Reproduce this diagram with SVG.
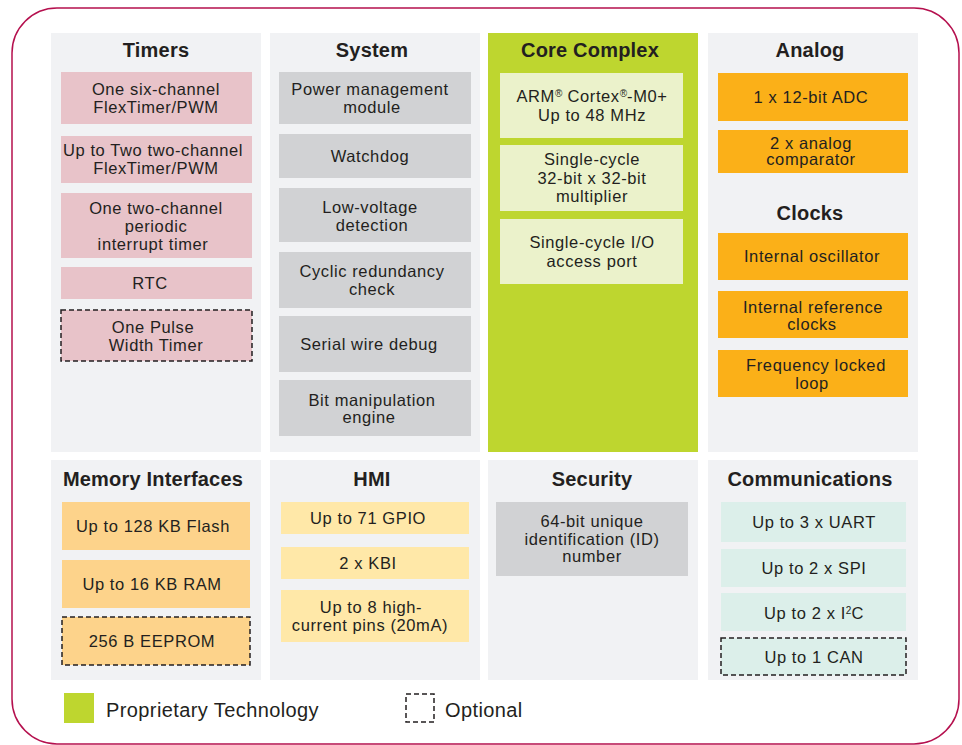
<svg xmlns="http://www.w3.org/2000/svg" width="962" height="745" viewBox="0 0 962 745">
<style>
text{font-family:"Liberation Sans",Arial,sans-serif;fill:#231f20;text-anchor:middle}
.t{font-size:20px;font-weight:bold;letter-spacing:0.2px}
.b{font-size:16.5px;letter-spacing:0.6px}
.l{font-size:20px;letter-spacing:0.4px;text-anchor:start}
.panel{fill:#f1f2f4}
.pink{fill:#e8c3c9}
.gray{fill:#d1d2d4}
.lg{fill:#ebf2cb}
.or{fill:#fbb018}
.mem{fill:#fdd38b}
.hmi{fill:#ffe8a8}
.com{fill:#dcefea}
.dash{stroke:#231f20;stroke-width:1.5;stroke-dasharray:5 3}
.sup{font-size:10px;letter-spacing:0}
</style>
<rect x="12" y="8" width="947" height="736" rx="45" fill="#fff" stroke="#b5104e" stroke-width="1.5"/>

<g id="timers">
<rect class="panel" x="51" y="33" width="210" height="419"/>
<text class="t" x="156" y="57">Timers</text>
<rect class="pink" x="61" y="72" width="191" height="52"/>
<text class="b" x="156" y="95">One six-channel</text><text class="b" x="156" y="113">FlexTimer/PWM</text>
<rect class="pink" x="61" y="136" width="191" height="47"/>
<text class="b" x="153" y="156">Up to Two two-channel</text><text class="b" x="156" y="174">FlexTimer/PWM</text>
<rect class="pink" x="61" y="193" width="191" height="65"/>
<text class="b" x="156" y="213.5">One two-channel</text><text class="b" x="156" y="231.5">periodic</text><text class="b" x="153" y="249.5">interrupt timer</text>
<rect class="pink" x="61" y="267" width="191" height="32"/>
<text class="b" x="150" y="289">RTC</text>
<rect class="pink dash" x="61" y="310" width="191" height="51"/>
<text class="b" x="153" y="332.5">One Pulse</text><text class="b" x="156" y="351">Width Timer</text>
</g>

<g id="system">
<rect class="panel" x="270" y="33" width="210" height="419"/>
<text class="t" x="372" y="57">System</text>
<rect class="gray" x="279" y="72" width="192" height="52"/>
<text class="b" x="370" y="95">Power management</text><text class="b" x="372" y="113">module</text>
<rect class="gray" x="279" y="134" width="192" height="44"/>
<text class="b" x="370" y="162">Watchdog</text>
<rect class="gray" x="279" y="188" width="192" height="54"/>
<text class="b" x="370" y="213">Low-voltage</text><text class="b" x="372" y="231">detection</text>
<rect class="gray" x="279" y="252" width="192" height="56"/>
<text class="b" x="372" y="277">Cyclic redundancy</text><text class="b" x="372" y="294.5">check</text>
<rect class="gray" x="279" y="316" width="192" height="56"/>
<text class="b" x="369" y="350">Serial wire debug</text>
<rect class="gray" x="279" y="380" width="192" height="56"/>
<text class="b" x="372" y="406">Bit manipulation</text><text class="b" x="369" y="423">engine</text>
</g>

<g id="core">
<rect fill="#bed62f" x="488" y="33" width="210" height="419"/>
<text class="t" x="590" y="57">Core Complex</text>
<rect class="lg" x="500" y="73" width="183" height="65"/>
<text class="b" x="592" y="102">ARM<tspan class="sup" baseline-shift="super">®</tspan> Cortex<tspan class="sup" baseline-shift="super">®</tspan>-M0+</text><text class="b" x="592" y="121">Up to 48 MHz</text>
<rect class="lg" x="500" y="145" width="183" height="66"/>
<text class="b" x="592" y="165">Single-cycle</text><text class="b" x="592" y="183.5">32-bit x 32-bit</text><text class="b" x="592" y="202">multiplier</text>
<rect class="lg" x="500" y="219" width="183" height="65"/>
<text class="b" x="592" y="248">Single-cycle I/O</text><text class="b" x="592" y="267">access port</text>
</g>

<g id="analog">
<rect class="panel" x="708" y="33" width="210" height="419"/>
<text class="t" x="810" y="57">Analog</text>
<rect class="or" x="718" y="73" width="190" height="48"/>
<text class="b" x="811" y="102.5">1 x 12-bit ADC</text>
<rect class="or" x="718" y="130" width="190" height="43"/>
<text class="b" x="811" y="148.5">2 x analog</text><text class="b" x="811" y="165">comparator</text>
<text class="t" x="810" y="220">Clocks</text>
<rect class="or" x="718" y="233" width="190" height="47"/>
<text class="b" x="812" y="262">Internal oscillator</text>
<rect class="or" x="718" y="291" width="190" height="47"/>
<text class="b" x="813" y="312.5">Internal reference</text><text class="b" x="812" y="330">clocks</text>
<rect class="or" x="718" y="350" width="190" height="47"/>
<text class="b" x="816" y="371">Frequency locked</text><text class="b" x="812" y="389">loop</text>
</g>

<g id="memory">
<rect class="panel" x="51" y="460" width="210" height="220"/>
<text class="t" x="153" y="486">Memory Interfaces</text>
<rect class="mem" x="62" y="502" width="188" height="48"/>
<text class="b" x="153" y="532">Up to 128 KB Flash</text>
<rect class="mem" x="62" y="560" width="188" height="48"/>
<text class="b" x="152" y="590">Up to 16 KB RAM</text>
<rect class="mem dash" x="62" y="617" width="188" height="48"/>
<text class="b" x="152" y="647">256 B EEPROM</text>
</g>

<g id="hmi">
<rect class="panel" x="270" y="460" width="210" height="220"/>
<text class="t" x="372" y="486">HMI</text>
<rect class="hmi" x="281" y="502" width="188" height="32"/>
<text class="b" x="368" y="524">Up to 71 GPIO</text>
<rect class="hmi" x="281" y="547" width="188" height="32"/>
<text class="b" x="368" y="569">2 x KBI</text>
<rect class="hmi" x="281" y="590" width="188" height="52"/>
<text class="b" x="371" y="613">Up to 8 high-</text><text class="b" x="370" y="631">current pins (20mA)</text>
</g>

<g id="security">
<rect class="panel" x="488" y="460" width="210" height="220"/>
<text class="t" x="592" y="486">Security</text>
<rect class="gray" x="496" y="502" width="192" height="74"/>
<text class="b" x="592" y="527">64-bit unique</text><text class="b" x="592" y="544.5">identification (ID)</text><text class="b" x="592" y="562">number</text>
</g>

<g id="communications">
<rect class="panel" x="708" y="460" width="210" height="220"/>
<text class="t" x="810" y="486">Communications</text>
<rect class="com" x="721" y="502" width="185" height="40"/>
<text class="b" x="814" y="528">Up to 3 x UART</text>
<rect class="com" x="721" y="549" width="185" height="38"/>
<text class="b" x="814" y="573.5">Up to 2 x SPI</text>
<rect class="com" x="721" y="593" width="185" height="38"/>
<text class="b" x="814" y="618.5">Up to 2 x I<tspan class="sup" baseline-shift="super">2</tspan>C</text>
<rect class="com dash" x="721" y="638" width="185" height="37"/>
<text class="b" x="814" y="663">Up to 1 CAN</text>
</g>

<g id="legend">
<rect fill="#bed62f" x="64" y="693" width="30" height="30"/>
<text class="l" x="106" y="717">Proprietary Technology</text>
<rect class="dash" fill="none" x="406" y="694" width="28" height="28"/>
<text class="l" x="445" y="717">Optional</text>
</g>
<g id="connectors"/>
</svg>
